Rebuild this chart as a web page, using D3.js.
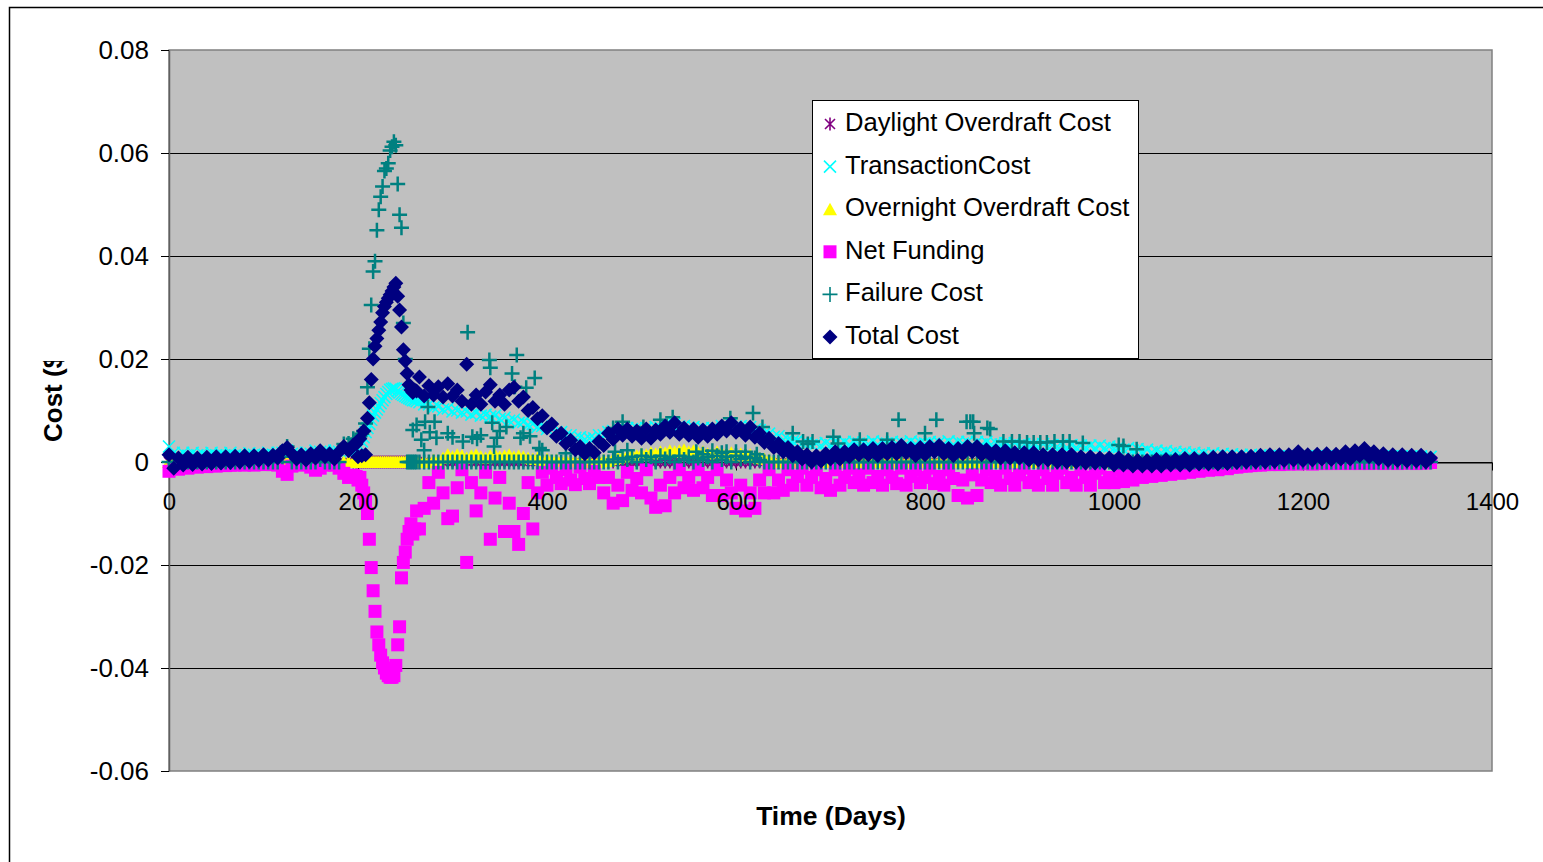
<!DOCTYPE html>
<html><head><meta charset="utf-8">
<script src="https://cdn.jsdelivr.net/npm/d3@7"></script>
<style>body{margin:0;background:#fff;} svg{display:block;font-family:"Liberation Sans",Arial,sans-serif;}</style>
</head><body><svg id="chart" width="1543" height="862"></svg>
<script>
// ---- data (values in units of 0.0001 $) ----
const days = [
0,5,10,15,20,25,30,35,40,45,50,55,60,65,70,75,80,85,90,95,
100,105,110,115,120,125,130,135,140,145,150,155,160,165,170,175,180,185,190,195,
198,200,202,204,206,208,210,212,214,216,218,220,222,224,226,228,230,232,234,236,
238,240,242,244,246,248,250,252,254,256,258,260,262,
265,270,275,280,285,290,295,300,305,310,315,320,325,330,335,340,345,350,355,360,
365,370,375,380,385,390,395,400,405,410,415,420,425,430,435,440,445,450,455,460,
465,470,475,480,485,490,495,500,505,510,515,520,525,530,535,540,545,550,555,560,
565,570,575,580,585,590,595,600,605,610,615,620,625,630,635,640,645,650,655,660,
665,670,675,680,685,690,695,700,705,710,715,720,725,730,735,740,745,750,755,760,
765,770,775,780,785,790,795,800,805,810,815,820,825,830,835,840,845,850,855,860,
865,870,875,880,885,890,895,900,905,910,915,920,925,930,935,940,945,950,955,960,
965,970,975,980,985,990,995,1000,1005,1010,1015,1020,1025,1030,1035,1040,1045,1050,1055,1060,
1065,1070,1075,1080,1085,1090,1095,1100,1105,1110,1115,1120,1125,1130,1135,1140,1145,1150,1155,1160,
1165,1170,1175,1180,1185,1190,1195,1200,1205,1210,1215,1220,1225,1230,1235,1240,1245,1250,1255,1260,
1265,1270,1275,1280,1285,1290,1295,1300,1305,1310,1315,1320,1325,1330,1335];

const daylightOverdraftCost = [
0,0,0,0,0,0,0,0,0,0,0,0,0,0,0,0,0,0,0,0, 0,0,0,0,0,0,0,0,0,0,0,0,0,0,0,0,0,0,0,0,
0,0,0,0,0,0,0,0,0,0,0,0,0,0,0,0,0,0,0,0, 0,0,0,0,0,0,0,0,0,0,0,0,0,
0,0,0,0,0,0,0,0,0,0,0,0,0,0,0,0,0,0,0,0, 0,0,0,0,0,0,0,0,0,0,0,0,0,0,0,0,0,0,0,0,
0,0,0,0,0,0,0,0,0,0,0,0,0,0,0,0,0,0,0,0, 0,0,0,0,0,0,0,0,0,0,0,0,0,0,0,0,0,0,0,0,
0,0,0,0,0,0,0,0,0,0,0,0,0,0,0,0,0,0,0,0, 0,0,0,0,0,0,0,0,0,0,0,0,0,0,0,0,0,0,0,0,
0,0,0,0,0,0,0,0,0,0,0,0,0,0,0,0,0,0,0,0, 0,0,0,0,0,0,0,0,0,0,0,0,0,0,0,0,0,0,0,0,
0,0,0,0,0,0,0,0,0,0,0,0,0,0,0,0,0,0,0,0, 0,0,0,0,0,0,0,0,0,0,0,0,0,0,0,0,0,0,0,0,
0,0,0,0,0,0,0,0,0,0,0,0,0,0,0];

const transactionCost = [
30,18,12,18,12,18,13,17,12,18,13,17,12,18,13,16,12,17,14,16,
13,18,14,18,18,22,16,18,13,18,16,22,20,22,16,22,20,24,18,24,
24,26,30,40,48,58,66,74,82,90,96,102,108,114,120,126,132,136,140,142,
143,142,138,135,132,130,128,126,124,122,120,120,118,
116,112,112,106,108,102,104,98,100,96,98,92,96,90,92,88,90,84,86,80,
82,76,78,72,74,68,70,64,66,58,58,52,52,47,48,44,46,46,52,52,
58,60,65,64,66,64,66,62,66,63,68,67,72,71,74,69,70,67,68,63,
66,63,66,65,70,69,74,69,70,67,68,63,62,55,55,49,50,43,44,40,
42,36,38,33,36,32,37,33,38,34,39,34,39,36,38,35,40,34,39,36,
39,36,38,35,40,35,38,36,39,36,38,35,40,34,39,36,39,34,39,34,
39,34,37,34,37,32,37,32,35,32,35,30,35,30,33,30,33,28,33,28,
32,28,32,27,32,27,30,26,29,24,27,22,25,20,24,19,22,18,21,17,
20,16,19,15,18,14,17,13,17,12,16,12,15,11,14,10,14,9,13,9,
12,9,11,9,11,9,11,9,11,9,11,9,11,9,11,9,11,9,11,9,
11,9,11,9,11,9,11,9,11,9,11,9,11,9,10];

const overnightOverdraftCost = [
0,0,0,0,0,0,0,0,0,0,0,0,0,0,0,0,0,0,0,0, 0,0,0,0,0,0,0,0,0,0,0,0,0,0,0,0,0,0,0,0,
0,0,0,0,0,0,0,0,0,0,0,0,0,0,0,0,0,0,0,0, 0,0,0,0,0,0,0,0,0,0,0,0,0,
0,2,0,4,2,8,14,10,14,12,8,12,14,10,8,12,14,10,12,14,
10,12,10,8,6,8,4,6,3,4,2,4,2,2,0,2,0,2,0,4,
2,6,8,10,12,14,12,16,14,18,16,20,18,22,20,22,24,20,22,18,
20,16,18,20,18,16,18,14,16,12,14,10,8,6,4,2,0,0,0,0,
0,0,0,0,0,0,0,0,0,0,0,0,0,0,0,0,0,0,0,0, 0,0,0,0,0,0,0,0,0,0,0,0,0,0,0,0,0,0,0,0,
0,0,0,0,0,0,0,0,0,0,0,0,0,0,0,0,0,0,0,0, 0,0,0,0,0,0,0,0,0,0,0,0,0,0,0,0,0,0,0,0,
0,0,0,0,0,0,0,0,0,0,0,0,0,0,0,0,0,0,0,0, 0,0,0,0,0,0,0,0,0,0,0,0,0,0,0,0,0,0,0,0,
0,0,0,0,0,0,0,0,0,0,0,0,0,0,0];

const netFunding = [
-18,-12,-14,-10,-12,-9,-10,-8,-9,-7,-8,-6,-7,-6,-6,-5,-6,-5,-6,-4,
-5,-4,-5,-6,-18,-24,-8,-5,-6,-5,-10,-16,-12,-6,-5,-6,-12,-22,-30,-26,
-28,-35,-30,-45,-60,-75,-100,-150,-205,-250,-290,-330,-355,-375,-390,-400,-410,-415,-418,-418,
-415,-395,-355,-320,-225,-195,-175,-150,-135,-120,-140,-130,-95,
-130,-90,-40,-80,-20,-60,-110,-105,-50,-15,-195,-40,-95,-60,-20,-150,-70,-30,-135,-80,
-135,-160,-100,-40,-130,-60,-20,-45,-12,-30,-42,-15,-35,-44,-10,-32,-42,-18,-30,-60,
-30,-80,-45,-75,-20,-55,-32,-60,-15,-70,-88,-45,-85,-30,-60,-15,-50,-30,-55,-15,
-50,-30,-65,-15,-65,-35,-60,-90,-45,-95,-60,-90,-35,-60,-15,-60,-35,-55,-15,-45,
-28,-12,-45,-30,-15,-50,-32,-55,-15,-45,-30,-12,-40,-25,-45,-12,-40,-28,-45,-15,
-30,-42,-12,-45,-28,-15,-40,-30,-12,-42,-28,-45,-15,-32,-65,-35,-70,-25,-65,-35,
-15,-40,-28,-45,-12,-32,-45,-25,-12,-40,-28,-45,-15,-32,-45,-22,-12,-40,-30,-45,
-15,-30,-45,-22,-12,-40,-30,-40,-15,-38,-25,-35,-12,-30,-20,-28,-10,-26,-16,-24,
-20,-22,-18,-20,-17,-18,-15,-16,-14,-15,-12,-13,-10,-10,-8,-8,-7,-6,-6,-5,
-5,-4,-5,-4,-4,-3,-4,-3,-3,-4,-3,-3,-3,-3,-2,-3,-2,-3,-2,-3,
-2,-3,-2,-2,-3,-2,-2,-3,-2,-2,-2,-3,-2,-2,-1];

const failureCost = [
0,0,0,0,0,0,0,0,0,0,0,0,0,0,0,0,0,0,0,0,
0,0,0,0,10,30,0,0,0,0,0,0,5,0,0,0,0,35,36,45,
40,45,50,55,60,75,145,220,305,370,390,450,490,515,535,565,570,580,605,612,
622,615,540,480,455,270,200,0,0,0,0,0,0,
0,0,0,0,0,0,0,0,0,0,0,0,0,0,0,0,0,0,0,0, 0,0,0,0,0,0,0,0,0,0,0,0,0,0,0,0,0,0,0,0,
0,5,0,8,5,10,0,12,5,10,0,12,6,10,0,12,5,10,0,8,
5,10,0,12,5,10,0,12,6,10,0,8,4,0,0,0,0,0,0,0,
0,0,0,0,0,0,0,0,0,0,0,0,0,0,0,0,0,0,0,0, 0,0,0,0,0,0,0,0,0,0,0,0,0,0,0,0,0,0,0,0,
0,0,0,0,0,0,0,0,0,0,0,0,0,0,0,0,0,0,0,0, 0,0,0,0,0,0,0,0,0,0,0,0,0,0,0,0,0,0,0,0,
0,0,0,0,0,0,0,0,0,0,0,0,0,0,0,0,0,0,0,0, 0,0,0,0,0,0,0,0,0,0,0,0,0,0,0,0,0,0,0,0,
0,0,0,0,0,0,0,0,0,0,0,0,0,0,0];

// additional scattered failure-cost points
const failureExtraDays = [258,262,267,270,271,274,276,281,283,295,300,311,316,321,326,330,339,340,342,344,
347,350,357,363,366,368,372,375,378,382,387,392,395,420,470,472,480,485,502,520,
533,558,565,575,585,590,594,600,610,618,622,628,660,671,676,681,703,708,731,760,
772,800,812,844,848,851,852,866,869,883,892,900,908,915,922,929,937,946,953,967,1005,1010,1024];
const failureExtraValues = [62,72,43,23,78,107,58,78,47,56,48,40,252,49,45,52,198,183,76,30,
47,60,68,172,146,208,47,56,144,50,163,27,23,17,66,20,78,23,68,82,
87,20,15,22,18,20,85,20,20,95,15,68,56,40,35,40,49,36,43,43,
82,56,82,78,78,78,56,66,64,40,40,40,38,38,38,38,40,40,40,37,33,31,25];

const totalCost = [
14,-12,8,-6,9,-5,8,-4,9,-3,10,-2,10,-1,11,0,12,1,12,3,
14,4,13,8,22,28,16,6,14,4,16,8,22,10,16,6,20,30,22,33,
35,10,45,12,60,14,85,115,160,200,225,240,256,272,290,302,310,318,325,332,
340,347,322,295,262,218,196,172,150,140,135,140,138,
165,128,148,130,146,126,152,128,140,118,190,112,130,112,136,150,118,130,112,140,
145,118,126,100,106,84,90,66,74,50,56,36,42,24,30,16,26,18,40,32,
56,44,64,52,64,50,60,46,64,46,62,54,70,58,76,54,66,52,64,48,
62,50,64,54,70,60,76,58,66,52,68,48,56,38,46,28,36,20,28,12,
20,6,14,0,12,2,16,6,20,6,20,10,24,14,24,14,26,12,26,16,
28,16,32,18,26,12,28,14,30,20,32,16,26,12,26,16,30,20,30,14,
24,12,22,8,22,8,18,8,18,4,18,4,14,4,14,0,14,0,14,0,
10,-2,10,-2,8,-2,8,-6,8,-6,4,-8,3,-8,3,-8,5,-8,5,-6,
5,-6,7,-6,7,-4,7,-4,9,-4,10,-3,10,-1,10,0,11,0,13,0,
14,1,14,3,14,4,20,3,14,4,15,6,16,5,15,6,20,6,22,12,
26,10,20,6,16,3,14,3,14,2,13,2,13,0,8];

const UNIT = 1e-4;
const yTicks = [-0.06,-0.04,-0.02,0,0.02,0.04,0.06,0.08];
const xTicks = [0,200,400,600,800,1000,1200,1400];
const seriesNames = ["Daylight Overdraft Cost","TransactionCost","Overnight Overdraft Cost","Net Funding","Failure Cost","Total Cost"];

// ---- drawing ----
const svg = d3.select('#chart');
const P = {left:169, right:1492, top:50, bottom:771};
const x = d3.scaleLinear().domain([0,1400]).range([P.left,P.right]);
const y = d3.scaleLinear().domain([-0.06,0.08]).range([P.bottom,P.top]);
const FONT = '"Liberation Sans", Arial, sans-serif';
const yFmt = d => d===0 ? '0' : d.toFixed(2);

svg.append('rect').attr('x',9.5).attr('y',7.5).attr('width',1700).attr('height',1000)
  .attr('fill','#fff').attr('stroke','#000').attr('stroke-width',1.5);

svg.append('rect').attr('x',P.left).attr('y',P.top).attr('width',P.right-P.left).attr('height',P.bottom-P.top)
  .attr('fill','#C0C0C0').attr('stroke','#808080').attr('stroke-width',1.5);

svg.append('g').selectAll('line').data(yTicks.filter(d=>d!==-0.06 && d!==0.08)).join('line')
  .attr('x1',P.left).attr('x2',P.right).attr('y1',d=>Math.round(y(d))+0.5).attr('y2',d=>Math.round(y(d))+0.5)
  .attr('stroke','#000').attr('stroke-width',1);

// axis lines + ticks (labels drawn later, on top of the markers)
const yAxisG = svg.append('g').attr('transform',`translate(${P.left},0)`)
  .call(d3.axisLeft(y).tickValues(yTicks).tickSize(8).tickSizeOuter(0).tickFormat(''));
yAxisG.select('.domain').attr('stroke','#606060').attr('stroke-width',1.5);
yAxisG.selectAll('.tick line').attr('stroke','#000');

const x0 = Math.round(y(0))+0.5;
const xAxisG = svg.append('g').attr('transform',`translate(0,${x0})`)
  .call(d3.axisBottom(x).tickValues(xTicks).tickSize(8).tickSizeOuter(0).tickFormat(''));
xAxisG.select('.domain').attr('stroke','#000').attr('stroke-width',1);
xAxisG.selectAll('.tick line').attr('stroke','#000');

// marker shapes
const shapes = {
  asterisk: {d:'M-5,-5L5,5M-5,5L5,-5M0,-6.5V6.5', fill:'none', stroke:'#800080', sw:1.6},
  cross:    {d:'M-6,-6L6,6M-6,6L6,-6', fill:'none', stroke:'#00FFFF', sw:1.6},
  triangle: {d:'M0,-6.5L7,6L-7,6Z', fill:'#FFFF00', stroke:'none', sw:0},
  square:   {d:'M-6.5,-6.5H6.5V6.5H-6.5Z', fill:'#FF00FF', stroke:'none', sw:0},
  plus:     {d:'M-7.5,0H7.5M0,-7.5V7.5', fill:'none', stroke:'#008080', sw:2.5},
  diamond:  {d:'M0,-7.5L7.5,0L0,7.5L-7.5,0Z', fill:'#000080', stroke:'none', sw:0}
};

const pts = (vals) => days.map((d,i)=>({day:d, value:vals[i]*UNIT})).filter(p=>!isNaN(p.value));
const failurePts = pts(failureCost).concat(failureExtraDays.map((d,i)=>({day:d, value:failureExtraValues[i]*UNIT})));

const series = [
  {name:seriesNames[0], shape:'asterisk', data:pts(daylightOverdraftCost)},
  {name:seriesNames[1], shape:'cross', data:pts(transactionCost)},
  {name:seriesNames[2], shape:'triangle', data:pts(overnightOverdraftCost)},
  {name:seriesNames[3], shape:'square', data:pts(netFunding)},
  {name:seriesNames[4], shape:'plus', data:failurePts},
  {name:seriesNames[5], shape:'diamond', data:pts(totalCost)}
];

series.forEach(s => {
  const sh = shapes[s.shape];
  svg.append('g').selectAll('path').data(s.data).join('path')
    .attr('transform', p => `translate(${x(p.day)},${y(p.value)})`)
    .attr('d', sh.d).attr('fill', sh.fill).attr('stroke', sh.stroke).attr('stroke-width', sh.sw);
});

// tick labels
const yLab = svg.append('g').attr('transform',`translate(${P.left},0)`)
  .call(d3.axisLeft(y).tickValues(yTicks).tickSize(0).tickPadding(20).tickFormat(yFmt));
yLab.select('.domain').remove();
yLab.attr('font-family',FONT).attr('font-size',26);
yLab.selectAll('.tick text').attr('fill','#000');

const xLab = svg.append('g').attr('transform',`translate(0,${x0})`)
  .call(d3.axisBottom(x).tickValues(xTicks).tickSize(0).tickPadding(30).tickFormat(d3.format('d')));
xLab.select('.domain').remove();
xLab.attr('font-family',FONT).attr('font-size',24);
xLab.selectAll('.tick text').attr('fill','#000');

// legend
const lg = svg.append('g');
lg.append('rect').attr('x',812.5).attr('y',100.5).attr('width',326).attr('height',258)
  .attr('fill','#fff').attr('stroke','#000').attr('stroke-width',1);
series.forEach((s,i) => {
  const cy = 122 + 42.6*i;
  const sh = shapes[s.shape];
  lg.append('path').attr('transform',`translate(830,${cy+2})`).attr('d',sh.d)
    .attr('fill',sh.fill).attr('stroke',sh.stroke).attr('stroke-width',Math.min(sh.sw,1.6));
  lg.append('text').attr('x',845).attr('y',cy+9).attr('font-family',FONT).attr('font-size',25.6)
    .attr('fill','#000').text(s.name);
});

// axis titles
svg.append('text').attr('x',831).attr('y',825).attr('text-anchor','middle')
  .attr('font-family',FONT).attr('font-size',26.5).attr('font-weight','bold').text('Time (Days)');

const clip = svg.append('defs').append('clipPath').attr('id','ylabClip');
clip.append('rect').attr('x',0).attr('y',361).attr('width',120).attr('height',200);
svg.append('g').attr('clip-path','url(#ylabClip)')
  .append('text').attr('transform','translate(62,442) rotate(-90)').attr('text-anchor','start')
  .attr('font-family',FONT).attr('font-size',26).attr('font-weight','bold').text('Cost ($)');
</script>
</body></html>
